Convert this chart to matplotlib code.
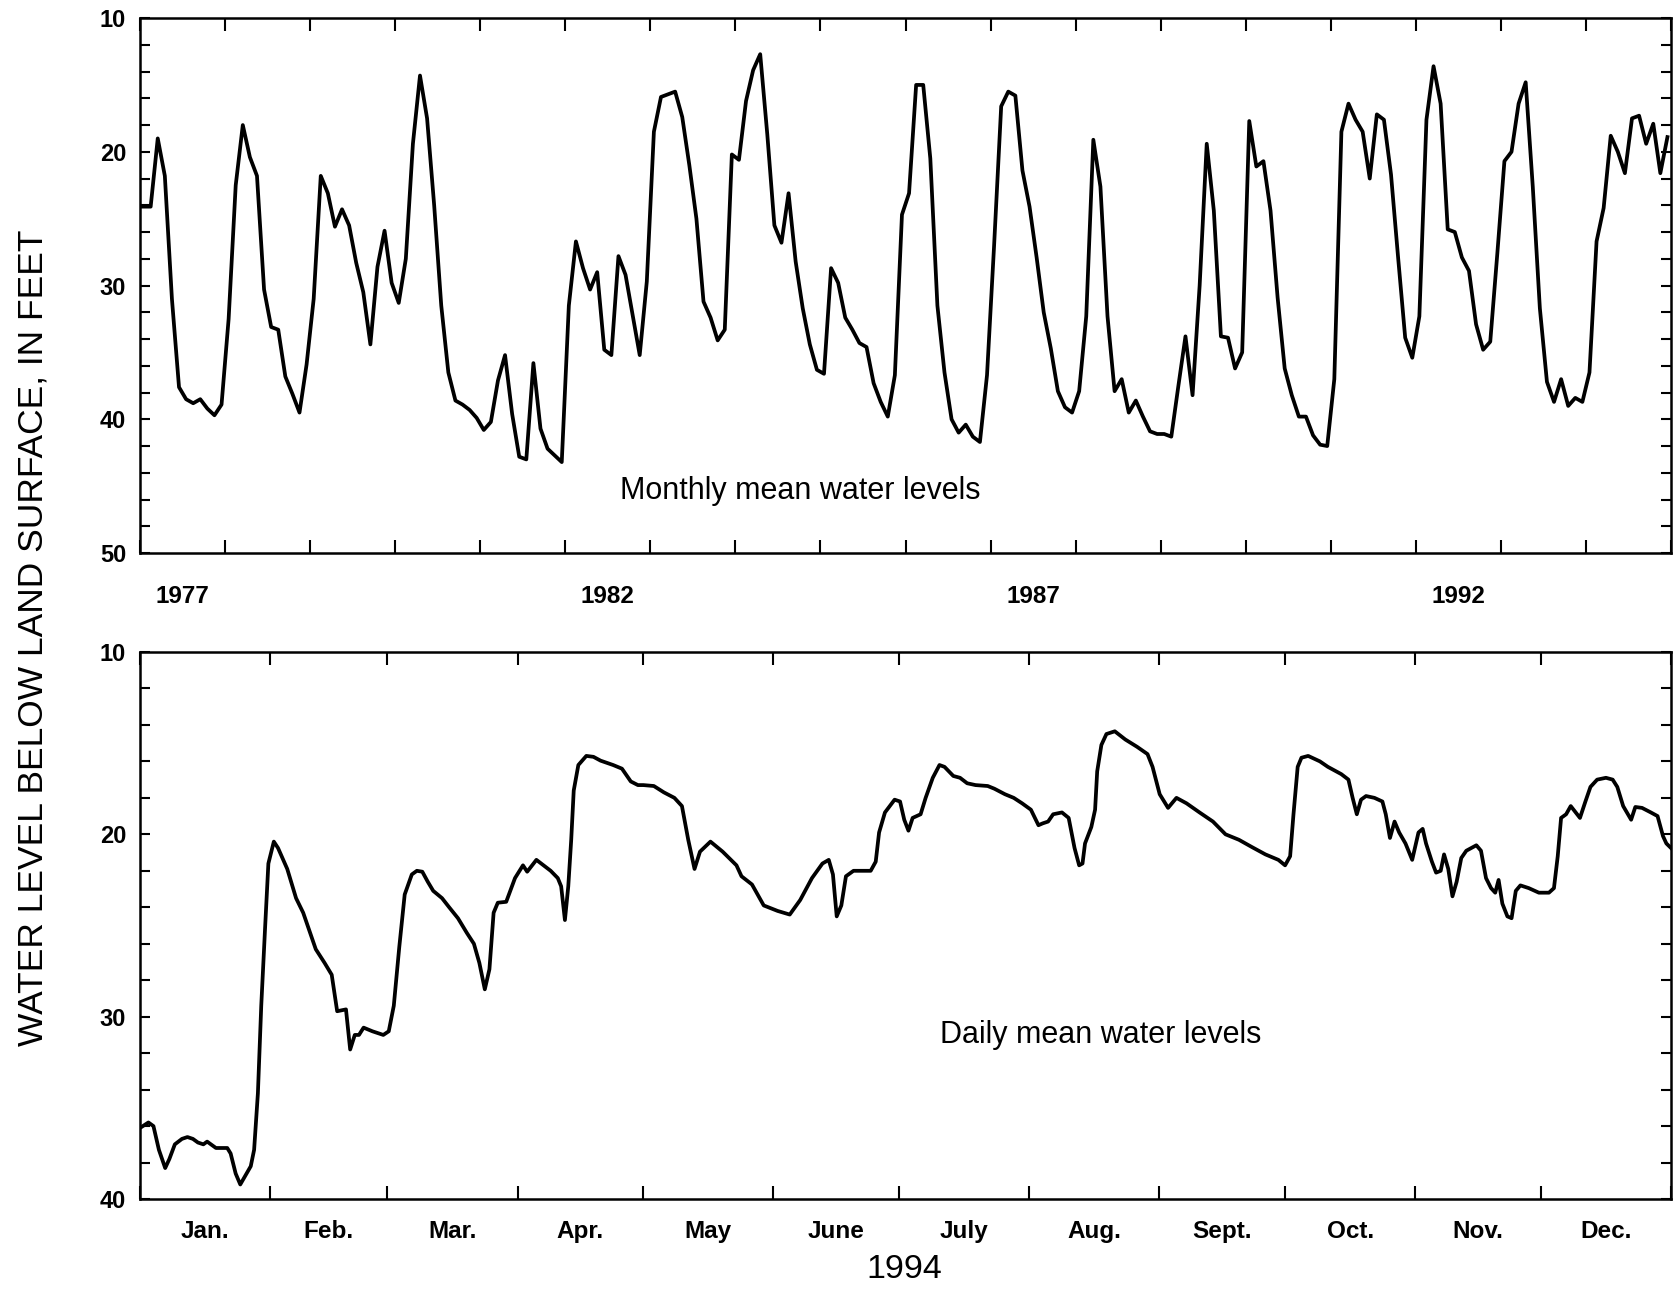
import numpy as np
import matplotlib.pyplot as plt

plt.rcParams['font.family'] = ['Liberation Sans', 'DejaVu Sans']

# monthly mean water level, feet below land surface, Jan 1977 .. Dec 1994
dec_1976 = 24.1
monthly = [
    24.1, 24.1, 19.0, 21.8, 31.0, 37.6, 38.5, 38.8, 38.5, 39.2, 39.7, 38.9,   # 1977
    32.5, 22.5, 18.0, 20.4, 21.8, 30.3, 33.1, 33.3, 36.8, 38.1, 39.5, 35.9,   # 1978
    31.0, 21.8, 23.1, 25.6, 24.3, 25.5, 28.3, 30.5, 34.4, 28.6, 25.9, 29.8,   # 1979
    31.3, 28.0, 19.4, 14.3, 17.5, 24.0, 31.5, 36.5, 38.6, 38.9, 39.3, 39.9,   # 1980
    40.8, 40.2, 37.1, 35.2, 39.6, 42.8, 43.0, 35.8, 40.7, 42.2, 42.7, 43.2,   # 1981
    31.5, 26.7, 28.7, 30.3, 29.0, 34.8, 35.2, 27.8, 29.2, 32.2, 35.2, 29.7,   # 1982
    18.5, 15.9, 15.7, 15.5, 17.4, 21.0, 25.0, 31.2, 32.4, 34.1, 33.3, 20.2,   # 1983
    20.6, 16.2, 13.9, 12.7, 18.7, 25.5, 26.8, 23.1, 28.2, 31.7, 34.4, 36.3,   # 1984
    36.6, 28.7, 29.8, 32.4, 33.3, 34.3, 34.6, 37.3, 38.7, 39.8, 36.7, 24.7,   # 1985
    23.1, 15.0, 15.0, 20.5, 31.5, 36.5, 40.0, 41.0, 40.4, 41.3, 41.7, 36.7,   # 1986
    27.0, 16.6, 15.5, 15.8, 21.4, 24.1, 27.9, 32.0, 34.7, 37.9, 39.1, 39.5,   # 1987
    37.9, 32.3, 19.1, 22.6, 32.3, 37.9, 37.0, 39.5, 38.6, 39.8, 40.9, 41.1,   # 1988
    41.1, 41.3, 37.5, 33.8, 38.2, 30.0, 19.4, 24.4, 33.8, 33.9, 36.2, 35.0,   # 1989
    17.7, 21.1, 20.7, 24.4, 30.9, 36.2, 38.2, 39.8, 39.8, 41.2, 41.9, 42.0,   # 1990
    37.0, 18.5, 16.4, 17.6, 18.5, 22.0, 17.2, 17.6, 21.7, 27.9, 33.9, 35.4,   # 1991
    32.3, 17.6, 13.6, 16.4, 25.8, 26.0, 27.9, 28.9, 32.9, 34.8, 34.2, 27.6,   # 1992
    20.7, 20.0, 16.4, 14.8, 22.6, 31.7, 37.2, 38.7, 37.0, 39.0, 38.4, 38.7,   # 1993
    36.5, 26.7, 24.2, 18.8, 20.0, 21.6, 17.5, 17.3, 19.4, 17.9, 21.6, 18.9,   # 1994
]
year_ticks = list(range(1977, 1996))
year_labels = ['1977', '1982', '1987', '1992']

# daily mean water level 1994 (day of year, feet below land surface)
day = [
    0.0, 2.0, 3.2, 4.5, 6.0, 7.0, 8.3, 10.0, 11.3, 12.6, 13.8, 15.1, 16.0, 18.1, 20.8,
    21.6, 22.8, 23.9, 24.9, 26.4, 27.2, 28.1, 28.9, 29.8, 30.6, 31.9, 32.9, 35.1, 37.2,
    38.9, 41.9, 44.0, 45.7, 47.0, 49.1, 50.1, 51.2, 52.2, 53.3, 55.4, 58.0, 59.3, 60.5,
    61.8, 63.1, 64.8, 66.0, 67.3, 68.6, 69.9, 72.0, 73.7, 75.8, 77.9, 79.6, 80.9, 82.2,
    83.3, 84.3, 85.3, 87.3, 89.4, 91.3, 92.3, 94.5, 96.2, 97.9, 99.6, 100.4, 101.3, 102.1,
    102.8, 103.4, 104.5, 106.4, 108.1, 109.8, 112.8, 114.9, 117.0, 118.7, 120.0, 122.5,
    124.9, 127.4, 129.2, 130.7, 132.2, 133.5, 136.0, 138.9, 142.2, 143.4, 145.9, 148.7,
    152.0, 154.9, 157.4, 160.2, 162.7, 164.2, 165.2, 166.1, 167.2, 168.3, 170.1, 172.5,
    174.2, 175.4, 176.2, 177.6, 179.9, 181.2, 182.2, 183.2, 184.2, 186.1, 187.3, 189.0,
    190.6, 191.8, 193.9, 195.5, 197.2, 199.2, 202.1, 203.7, 206.2, 208.3, 210.3, 212.4,
    214.2, 215.2, 216.5, 217.7, 219.8, 221.4, 222.8, 223.9, 224.7, 225.3, 226.8, 227.7,
    228.2, 229.2, 230.4, 232.4, 234.9, 237.7, 240.2, 241.4, 243.1, 245.1, 247.1, 249.5,
    252.6, 255.8, 258.8, 262.0, 265.1, 268.3, 271.4, 273.0, 274.2, 275.0, 276.0, 276.9,
    278.5, 281.3, 283.2, 286.4, 288.1, 289.1, 290.1, 291.1, 292.3, 294.3, 296.2, 297.0,
    298.0, 299.1, 300.2, 301.7, 303.3, 304.8, 305.8, 306.6, 308.0, 309.0, 310.1, 310.9,
    311.9, 312.9, 313.9, 315.0, 316.2, 318.6, 319.7, 320.9, 322.1, 323.1, 323.9, 324.8,
    326.0, 327.0, 328.0, 329.1, 331.1, 333.5, 335.9, 337.1, 338.0, 338.8, 340.0, 341.1,
    342.3, 343.3, 344.6, 345.8, 347.4, 349.5, 351.1, 352.2, 353.6, 355.5, 356.5, 358.1,
    360.2, 361.8, 363.1, 363.9, 365.0,
]
daily = [
    36.1, 35.8, 36.0, 37.3, 38.3, 37.8, 37.0, 36.7, 36.6, 36.7, 36.9, 37.0, 36.85, 37.2, 37.2,
    37.5, 38.6, 39.2, 38.8, 38.2, 37.3, 34.2, 29.4, 25.2, 21.6, 20.4, 20.75, 21.9, 23.5,
    24.3, 26.3, 27.05, 27.7, 29.7, 29.6, 31.8, 31.0, 31.0, 30.6, 30.8, 31.0, 30.8, 29.4,
    26.2, 23.3, 22.2, 22.0, 22.05, 22.6, 23.1, 23.5, 24.0, 24.6, 25.4, 26.0, 27.05, 28.5,
    27.4, 24.3, 23.75, 23.7, 22.4, 21.7, 22.05, 21.4, 21.7, 22.0, 22.4, 22.85, 24.7, 22.85,
    20.3, 17.6, 16.2, 15.7, 15.75, 15.96, 16.2, 16.4, 17.1, 17.3, 17.3, 17.35,
    17.7, 18.0, 18.45, 20.3, 21.9, 20.95, 20.4, 20.95, 21.7, 22.3, 22.75, 23.9,
    24.2, 24.4, 23.6, 22.4, 21.6, 21.4, 22.2, 24.5, 23.9, 22.3, 22.0, 22.0,
    22.0, 21.5, 19.9, 18.8, 18.1, 18.2, 19.2, 19.8, 19.1, 18.9, 18.0, 16.9,
    16.2, 16.3, 16.8, 16.9, 17.2, 17.3, 17.35, 17.5, 17.8, 18.0, 18.3, 18.65,
    19.5, 19.4, 19.3, 18.9, 18.8, 19.1, 20.75, 21.7, 21.6, 20.5, 19.6, 18.65,
    16.55, 15.1, 14.5, 14.35, 14.8, 15.2, 15.6, 16.3, 17.8, 18.55, 18.0, 18.3,
    18.8, 19.3, 20.0, 20.3, 20.7, 21.1, 21.4, 21.7, 21.2, 18.9, 16.3, 15.8,
    15.7, 16.0, 16.3, 16.7, 17.0, 18.0, 18.9, 18.1, 17.9, 18.0, 18.2, 18.9,
    20.2, 19.3, 19.9, 20.5, 21.4, 19.9, 19.7, 20.5, 21.5, 22.1, 22.0, 21.1,
    21.9, 23.4, 22.6, 21.3, 20.9, 20.6, 20.9, 22.4, 22.95, 23.2, 22.5, 23.8,
    24.5, 24.6, 23.1, 22.8, 22.95, 23.2, 23.2, 22.95, 21.2, 19.1, 18.9, 18.45,
    18.8, 19.1, 18.2, 17.4, 17.0, 16.9, 17.0, 17.4, 18.45, 19.2, 18.5, 18.55,
    18.8, 19.0, 20.1, 20.5, 20.75,
]
month_days = [31, 28, 31, 30, 31, 30, 31, 31, 30, 31, 30, 31]
month_names = ['Jan.', 'Feb.', 'Mar.', 'Apr.', 'May', 'June', 'July', 'Aug.',
               'Sept.', 'Oct.', 'Nov.', 'Dec.']

fig = plt.figure(figsize=(16.75, 12.9), dpi=100)
ax1 = fig.add_axes([0.0836, 0.5713, 0.914, 0.4147])
ax2 = fig.add_axes([0.0836, 0.0705, 0.914, 0.4241])

# top panel: monthly means, plotted mid-month
mx = 1977 + (np.arange(-1, len(monthly)) + 0.5) / 12
ax1.plot(mx, [dec_1976] + monthly, color='black', lw=2.7)
ax1.set_xlim(1977, 1995)
ax1.set_ylim(50, 10)
ax1.set_xticks(year_ticks)
ax1.set_xticklabels([])
ax1.set_xticks([int(y) + 0.5 for y in year_labels], minor=True)
ax1.set_xticklabels(year_labels, minor=True)
ax1.set_yticks([10, 20, 30, 40, 50])
ax1.set_yticks(np.arange(10, 51, 2), minor=True)
ax1.text(0.431, 0.116, 'Monthly mean water levels', transform=ax1.transAxes,
         ha='center', va='center', fontsize=22)

# bottom panel: daily means 1994
edges = np.concatenate([[0], np.cumsum(month_days)])
mids = (edges[:-1] + edges[1:]) / 2
ax2.plot(day, daily, color='black', lw=2.7)
ax2.set_xlim(0, 365)
ax2.set_ylim(40, 10)
ax2.set_xticks(edges)
ax2.set_xticklabels([])
ax2.set_xticks(mids, minor=True)
ax2.set_xticklabels(month_names, minor=True)
ax2.set_yticks([10, 20, 30, 40])
ax2.set_yticks(np.arange(10, 41, 2), minor=True)
ax2.text(0.6275, 0.30, 'Daily mean water levels', transform=ax2.transAxes,
         ha='center', va='center', fontsize=22)

for ax, xpad in ((ax1, 23), (ax2, 15)):
    for s in ax.spines.values():
        s.set_linewidth(1.8)
    ax.tick_params(axis='x', which='major', direction='in', length=9.5, width=1.5,
                   top=True, bottom=True)
    ax.tick_params(axis='x', which='minor', length=0, pad=xpad, labelsize=17.5)
    ax.tick_params(axis='y', which='both', direction='in', length=7, width=1.5,
                   left=True, right=True, pad=10, labelsize=17)
    for lab in ax.get_xticklabels(minor=True) + ax.get_yticklabels():
        lab.set_fontweight('bold')

fig.text(0.0195, 0.5054, 'WATER LEVEL BELOW LAND SURFACE, IN FEET', rotation=90,
         ha='center', va='center', fontsize=25.5)
fig.text(0.540, 0.004, '1994', ha='center', va='bottom', fontsize=24.5)

fig.savefig('out.png', dpi=100)
